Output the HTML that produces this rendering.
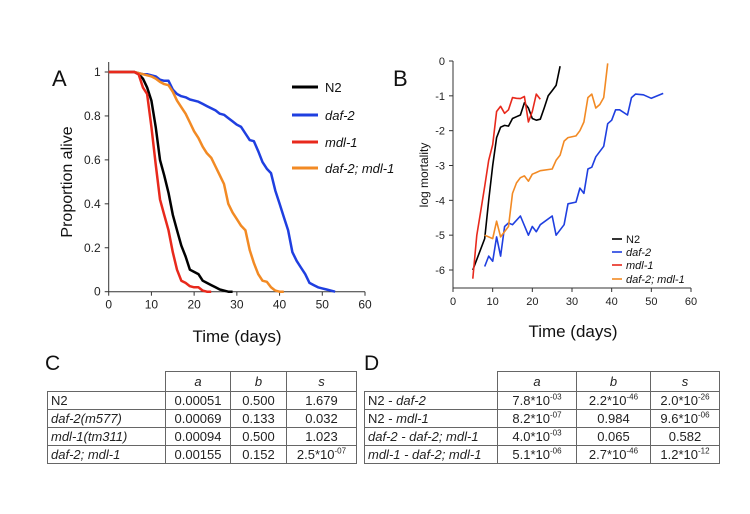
<!DOCTYPE html>
<html><head><meta charset="utf-8"><style>
body{margin:0;background:#fff;font-family:"Liberation Sans",sans-serif}
#wrap{position:relative;width:750px;height:514px;overflow:hidden}
table{position:absolute;border-collapse:collapse;table-layout:fixed;font-size:13px;color:#222}
td{border:1px solid #666;padding:0 3px;height:17px;line-height:17px;text-align:center;white-space:nowrap;overflow:hidden}
tr.h td{height:17px;line-height:19px}
td.l{text-align:left}
td.e{border:none}
sup{font-size:8px;line-height:0}
.lbl{position:absolute;font-size:21px;color:#111}
</style></head><body><div id="wrap">
<svg id="svg" width="750" height="514" style="position:absolute;left:0;top:0"></svg>
<div class="lbl" style="left:45px;top:352px">C</div>
<div class="lbl" style="left:364px;top:352px">D</div>
<table style="left:47px;top:371px;width:309px">
<colgroup><col style="width:118px"><col style="width:65px"><col style="width:56px"><col style="width:70px"></colgroup>
<tr class="h"><td class="e"></td><td><i>a</i></td><td><i>b</i></td><td><i>s</i></td></tr>
<tr><td class="l">N2</td><td>0.00051</td><td>0.500</td><td>1.679</td></tr>
<tr><td class="l"><i>daf-2(m577)</i></td><td>0.00069</td><td>0.133</td><td>0.032</td></tr>
<tr><td class="l"><i>mdl-1(tm311)</i></td><td>0.00094</td><td>0.500</td><td>1.023</td></tr>
<tr><td class="l"><i>daf-2; mdl-1</i></td><td>0.00155</td><td>0.152</td><td>2.5*10<sup>-07</sup></td></tr>
</table>
<table style="left:364px;top:371px;width:355px">
<colgroup><col style="width:133px"><col style="width:79px"><col style="width:74px"><col style="width:69px"></colgroup>
<tr class="h"><td class="e"></td><td><i>a</i></td><td><i>b</i></td><td><i>s</i></td></tr>
<tr><td class="l">N2 - <i>daf-2</i></td><td>7.8*10<sup>-03</sup></td><td>2.2*10<sup>-46</sup></td><td>2.0*10<sup>-26</sup></td></tr>
<tr><td class="l">N2 - <i>mdl-1</i></td><td>8.2*10<sup>-07</sup></td><td>0.984</td><td>9.6*10<sup>-06</sup></td></tr>
<tr><td class="l"><i>daf-2 - daf-2; mdl-1</i></td><td>4.0*10<sup>-03</sup></td><td>0.065</td><td>0.582</td></tr>
<tr><td class="l"><i>mdl-1 - daf-2; mdl-1</i></td><td>5.1*10<sup>-06</sup></td><td>2.7*10<sup>-46</sup></td><td>1.2*10<sup>-12</sup></td></tr>
</table>
</div>
<script>
const seriesNames=["N2","daf-2","mdl-1","daf-2; mdl-1"];
const colors=["#000","#1f3fe0","#e8291c","#f28a24"];
const survN2Days=[0,6,7,8,9,10,11,12,13,14,15,16,17,18,19,20,21,22,23,24,25,26,27,28,29];
const survN2=[1,1,0.99,0.97,0.93,0.87,0.75,0.6,0.53,0.45,0.35,0.28,0.21,0.16,0.1,0.09,0.08,0.05,0.04,0.03,0.02,0.01,0.005,0,0];
const survDaf2Days=[0,6,7,8,9,10,11,12,13,14,15,16,17,18,19,20,21,22,23,24,25,26,27,28,29,30,31,32,33,34,35,36,37,38,39,40,41,42,43,44,45,46,47,48,49,50,51,52,53];
const survDaf2=[1,1,0.995,0.99,0.99,0.985,0.98,0.965,0.96,0.96,0.92,0.9,0.89,0.885,0.875,0.87,0.865,0.855,0.845,0.835,0.825,0.81,0.805,0.79,0.775,0.76,0.75,0.72,0.69,0.685,0.64,0.59,0.56,0.54,0.46,0.4,0.34,0.28,0.18,0.14,0.11,0.08,0.04,0.03,0.02,0.015,0.01,0.005,0];
const survMdl1Days=[0,6,7,8,9,10,11,12,13,14,15,16,17,18,19,20,21,22,23,24];
const survMdl1=[1,1,0.99,0.93,0.9,0.75,0.58,0.42,0.35,0.28,0.18,0.1,0.05,0.04,0.025,0.02,0.02,0.005,0,0];
const survDmDays=[0,6,7,8,9,10,11,12,13,14,15,16,17,18,19,20,21,22,23,24,25,26,27,28,29,30,31,32,33,34,35,36,37,38,39,40,41];
const survDm=[1,1,0.995,0.99,0.985,0.98,0.97,0.955,0.945,0.94,0.91,0.87,0.84,0.81,0.77,0.73,0.7,0.66,0.63,0.61,0.57,0.53,0.49,0.4,0.36,0.33,0.3,0.28,0.19,0.13,0.08,0.05,0.045,0.02,0.005,0,0];
const mortN2Days=[5,8,9,10,11,12,13,14,15,16,17,18,19,20,21,22,23,24,25,26,27];
const mortN2=[-6.0,-5.1,-4.0,-3.0,-2.2,-1.9,-1.85,-1.87,-1.65,-1.6,-1.55,-1.2,-1.35,-1.65,-1.7,-1.67,-1.35,-1.0,-0.85,-0.7,-0.15];
const mortDaf2Days=[8,9,10,11,12,13,14,15,17,19,20,21,22,25,26,28,29,31,32,33,34,35,36,38,39,40,41,42,44,45,46,48,50,53];
const mortDaf2=[-5.9,-5.6,-5.75,-5.05,-5.6,-4.75,-4.65,-4.7,-4.45,-5.0,-4.75,-4.9,-4.7,-4.45,-5.0,-4.7,-4.1,-4.05,-3.65,-3.8,-3.1,-3.05,-2.75,-2.45,-1.8,-1.7,-1.4,-1.4,-1.55,-1.05,-0.95,-0.97,-1.07,-0.93];
const mortMdl1Days=[5,6,7,8,9,10,11,12,13,14,15,16,17,18,19,20,21,22];
const mortMdl1=[-6.25,-5.0,-4.3,-3.6,-2.85,-2.4,-1.45,-1.3,-1.5,-1.4,-1.05,-1.07,-1.08,-1.02,-1.75,-1.45,-0.95,-1.1];
const mortDmDays=[8,10,11,12,14,15,16,17,18,19,20,21,22,25,26,27,28,29,31,32,33,34,35,36,37,38,39];
const mortDm=[-5.0,-5.1,-4.6,-5.05,-4.75,-3.8,-3.5,-3.35,-3.3,-3.45,-3.25,-3.2,-3.15,-3.1,-2.85,-2.7,-2.3,-2.2,-2.15,-2.0,-1.75,-1.05,-0.95,-1.35,-1.25,-1.05,-0.07];
const xTicks=[0,10,20,30,40,50,60];
const yTicksA=[0,0.2,0.4,0.6,0.8,1];
const yTicksB=[0,-1,-2,-3,-4,-5,-6];

const NS="http://www.w3.org/2000/svg",svg=document.getElementById('svg');
function mk(t,a,txt){const e=document.createElementNS(NS,t);for(const k in a)e.setAttribute(k,a[k]);if(txt!==undefined)e.textContent=txt;svg.appendChild(e);return e;}
const ax=v=>108.7+v*(365-108.7)/60, ay=v=>291.7-v*(291.7-72);
const bx=v=>453+v*(691-453)/60, by=v=>61-v*(270-61)/6;

function axes(xs,ys,yt,x0,yb,ytop,xr,fs,tag){
  let e=mk('line',{x1:x0,y1:yb,x2:xr,y2:yb,stroke:'#333','stroke-width':1});
  
  
  e=mk('line',{x1:x0,y1:yb,x2:x0,y2:ytop,stroke:'#333','stroke-width':1});
  
  
  xTicks.forEach(t=>{mk('line',{x1:xs(t),y1:yb,x2:xs(t),y2:yb+4,stroke:'#333'});
    e=mk('text',{x:xs(t),y:yb+17,'text-anchor':'middle','font-size':fs,fill:'#222'},t);
    
    });
  yt.forEach(t=>{mk('line',{x1:x0-4,y1:ys(t),x2:x0,y2:ys(t),stroke:'#333'});
    e=mk('text',{x:x0-8,y:ys(t)+4,'text-anchor':'end','font-size':fs,fill:'#222'},String(t));
    
    });
}
axes(ax,ay,yTicksA,108.7,291.7,62,365,12,'a');
axes(bx,by,yTicksB,453,288,61,691,11,'b');

function line(xs,ys,d,v,c,w,name){
  const pts=d.map((x,i)=>xs(x).toFixed(1)+','+ys(v[i]).toFixed(1)).join(' ');
  const e=mk('polyline',{points:pts,fill:'none',stroke:c,'stroke-width':w,'stroke-linejoin':'round'});
  
  
}
line(ax,ay,survN2Days,survN2,colors[0],2.5,'survival-n2');
line(ax,ay,survDaf2Days,survDaf2,colors[1],2.5,'survival-daf-2');
line(ax,ay,survDmDays,survDm,colors[3],2.5,'survival-daf-2-mdl-1');
line(ax,ay,survMdl1Days,survMdl1,colors[2],2.5,'survival-mdl-1');
line(bx,by,mortN2Days,mortN2,colors[0],1.6,'mortality-n2');
line(bx,by,mortDaf2Days,mortDaf2,colors[1],1.6,'mortality-daf-2');
line(bx,by,mortDmDays,mortDm,colors[3],1.6,'mortality-daf-2-mdl-1');
line(bx,by,mortMdl1Days,mortMdl1,colors[2],1.6,'mortality-mdl-1');

const legAy=[87,115,142,168], legBy=[239,252,265,279];
seriesNames.forEach((n,i)=>{
  mk('line',{x1:292,y1:legAy[i],x2:318,y2:legAy[i],stroke:colors[i],'stroke-width':3});
  let e=mk('text',{x:325,y:legAy[i]+5,'font-size':13,'font-style':i?'italic':'normal',fill:'#111'},n);
  
  
  mk('line',{x1:612,y1:legBy[i],x2:622,y2:legBy[i],stroke:colors[i],'stroke-width':1.6});
  e=mk('text',{x:626,y:legBy[i]+4,'font-size':11,'font-style':i?'italic':'normal',fill:'#111'},n);
  
  
});
let e;
e=mk('text',{x:52,y:86,'font-size':22,fill:'#111'},'A');


e=mk('text',{x:393,y:86,'font-size':22,fill:'#111'},'B');


e=mk('text',{x:237,y:342,'font-size':17,'text-anchor':'middle',fill:'#111'},'Time (days)');


e=mk('text',{x:573,y:337,'font-size':17,'text-anchor':'middle',fill:'#111'},'Time (days)');


e=mk('text',{x:0,y:0,'font-size':16,'text-anchor':'middle',fill:'#111',transform:'translate(72,182) rotate(-90)'},'Proportion alive');


e=mk('text',{x:0,y:0,'font-size':12,'text-anchor':'middle',fill:'#111',transform:'translate(428,175) rotate(-90)'},'log mortality');


</script>
</body></html>
